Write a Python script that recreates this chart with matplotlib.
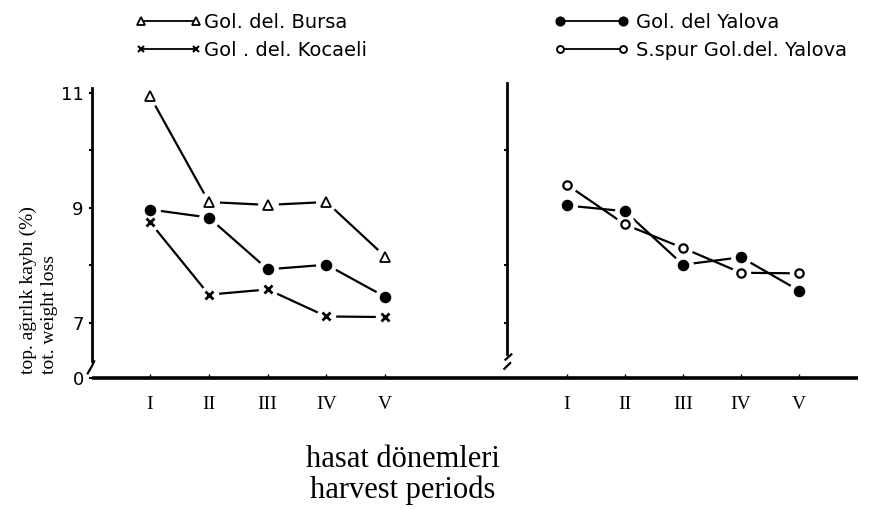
import numpy as np
import matplotlib
matplotlib.use("Agg")
import matplotlib.pyplot as plt
from matplotlib.lines import Line2D
import matplotlib.transforms as mtransforms

periods = ['I', 'II', 'III', 'IV', 'V']
xpos = np.arange(1, 6)

# left panel
bursa = [10.94, 9.10, 9.05, 9.10, 8.15]
kocaeli = [8.75, 7.49, 7.58, 7.11, 7.10]
yalova_l = [8.97, 8.83, 7.93, 8.01, 7.45]

# right panel
yalova_r = [9.04, 8.94, 8.01, 8.14, 7.56]
spur_r = [9.40, 8.71, 8.30, 7.87, 7.86]

ytick_vals = [6.04, 7, 9, 11]
ytick_labels = ['0', '7', '9', '11']
yminor_vals = [8, 10]

W, H = 881, 509
fig = plt.figure(figsize=(W / 100, H / 100), dpi=100)

def fbox(x0, x1, ytop, ybot):
    return [x0 / W, 1 - ybot / H, (x1 - x0) / W, (ybot - ytop) / H]

ax1 = fig.add_axes(fbox(92, 450, 83, 378))
ax2 = fig.add_axes(fbox(450, 858, 83, 378))

serif = ['Liberation Serif', 'DejaVu Serif']
ylo, yhi = 6.04, 11.17

def series(ax, y, marker, ms, filled, mew=1.3):
    ax.plot(xpos, y, color='black', lw=1.6, zorder=2)
    ax.plot(xpos, y, ls='none', marker='o', ms=ms + 7, mfc='white', mec='white', zorder=3)
    ax.plot(xpos, y, ls='none', marker=marker, ms=ms, mfc='black' if filled else 'white',
            mec='black', mew=mew, zorder=4)

series(ax1, bursa, '^', 7, False)
series(ax1, yalova_l, 'o', 7, True)
series(ax1, kocaeli, 'x', 6, True, mew=2)
series(ax2, yalova_r, 'o', 7, True)
series(ax2, spur_r, 'o', 6, False, mew=1.6)

for ax in (ax1, ax2):
    ax.set_ylim(ylo, yhi)
    ax.spines['top'].set_visible(False)
    ax.spines['right'].set_visible(False)
    ax.spines['bottom'].set_linewidth(2.6)
    ax.spines['bottom'].set_capstyle('butt')
    ax.spines['left'].set_linewidth(2.0)
    ax.set_xticks(xpos)
    ax.set_xticklabels(periods, fontfamily=serif, fontsize=14)
    ax.tick_params(axis='x', direction='in', length=3, width=1, pad=13)
    ax.set_facecolor('none')

ax1.set_xlim(0.013, 6.1)
ax1.spines['left'].set_bounds(6.33, 11.08)
ax1.set_yticks(ytick_vals)
ax1.set_yticklabels(ytick_labels, fontsize=13)
ax1.set_yticks(yminor_vals, minor=True)
ax1.tick_params(axis='y', which='both', direction='out', length=2, width=1.5, pad=4)

ax2.set_xlim(-1.017, 6.017)
ax2.spines['left'].set_position(('data', -0.03))
ax2.spines['left'].set_bounds(6.45, 11.17)
ax2.set_yticks([7, 8, 10])
ax2.set_yticklabels([])
ax2.tick_params(axis='y', direction='out', length=2, width=1.5)

# axis break marks
tr1 = mtransforms.blended_transform_factory(ax1.transAxes, ax1.transData)
ax1.plot([-0.012, 0.0, 0.006], [6.12, 6.25, 6.33], color='black', lw=1.6,
         transform=tr1, clip_on=False)
ax2.plot([-0.08, 0.02], [6.2, 6.3], color='black', lw=1.6, clip_on=False)
ax2.plot([-0.06, 0.04], [6.36, 6.45], color='black', lw=1.6, clip_on=False)

# legends
def handle(marker, ms, filled, mew=1.3):
    return Line2D([], [], color='black', lw=1.3, marker=marker, ms=ms,
                  mfc='black' if filled else 'white', mec='black', mew=mew)

fig.legend([handle('^', 6, False), handle('x', 5, True, 1.5)],
           ['Gol. del. Bursa', 'Gol . del. Kocaeli'],
           loc='upper left', bbox_to_anchor=(118 / W, 1 + 5 / H),
           frameon=False, numpoints=2, handlelength=3.4, handletextpad=0.1,
           labelspacing=0.5, fontsize=14)
fig.legend([handle('o', 6, True), handle('o', 5, False, 1.4)],
           ['Gol. del Yalova', 'S.spur Gol.del. Yalova'],
           loc='upper left', bbox_to_anchor=(537 / W, 1 + 5 / H),
           frameon=False, numpoints=2, handlelength=3.8, handletextpad=0.4,
           labelspacing=0.5, fontsize=14)

fig.text(39 / W, 1 - 290 / H, 'top. ağırlık kaybı (%)\ntot. weight loss',
         rotation=90, ha='center', va='center', multialignment='left',
         fontfamily=serif, fontsize=14, linespacing=1.3)

fig.text(403 / W, 1 - 475 / H, 'hasat dönemleri\nharvest periods',
         ha='center', va='center', fontfamily=serif, fontsize=22, linespacing=1.05)

fig.savefig('out.png', dpi=100)
